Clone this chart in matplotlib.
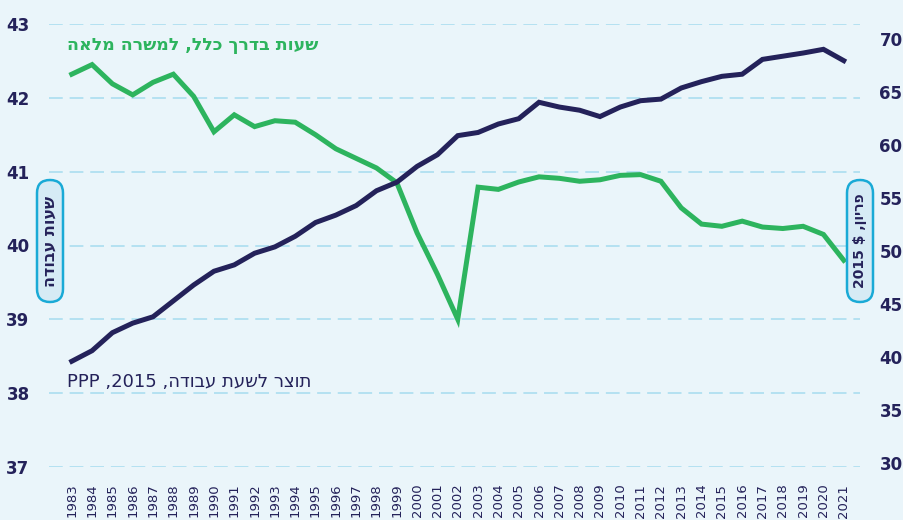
import matplotlib.pyplot as plt
from matplotlib.patches import FancyBboxPatch
from matplotlib.transforms import IdentityTransform

years = list(range(1983, 2022))

# usual weekly hours, full-time job (left axis)
hours = [42.32, 42.45, 42.19, 42.04, 42.21, 42.32, 42.02, 41.54, 41.77, 41.61,
         41.69, 41.67, 41.50, 41.31, 41.18, 41.05, 40.85, 40.17, 39.61, 39.00,
         40.79, 40.76, 40.86, 40.93, 40.91, 40.87, 40.89, 40.95, 40.96, 40.87,
         40.51, 40.29, 40.26, 40.33, 40.25, 40.23, 40.26, 40.15, 39.80]

# output per hour worked, 2015 PPP $ (right axis)
productivity = [39.6, 40.6, 42.3, 43.2, 43.8, 45.3, 46.8, 48.1, 48.7, 49.8,
                50.4, 51.4, 52.7, 53.4, 54.3, 55.7, 56.5, 58.0, 59.1, 60.9,
                61.2, 62.0, 62.5, 64.05, 63.6, 63.3, 62.7, 63.6, 64.2, 64.35,
                65.4, 66.0, 66.5, 66.7, 68.1, 68.4, 68.7, 69.05, 67.98]

left_ticks = [37, 38, 39, 40, 41, 42, 43]
right_ticks = [30, 35, 40, 45, 50, 55, 60, 65, 70]

# hebrew strings in visual (left-to-right) order, matplotlib has no bidi
hours_label = "שעות בדרך כלל, למשרה מלאה"[::-1]
prod_label = "PPP ,2015 ," + "תוצר לשעת עבודה"[::-1]
left_axis_label = "שעות עבודה"[::-1]
right_axis_label = "2015 $ ," + "פריון"[::-1]

BG = "#EAF5FA"
GREEN = "#2DB45E"
NAVY = "#24225A"
GRID = "#A6DBEF"
BOX_EDGE = "#1AAAD6"
BOX_FILL = "#D6EBF5"

plt.rcParams['font.family'] = ['DejaVu Sans']

W, H = 904, 520
fig = plt.figure(figsize=(W / 100, H / 100), dpi=100, facecolor=BG)
ax = fig.add_axes([49 / W, 1 - 467 / H, (860 - 49) / W, (467 - 24) / H])
ax.set_facecolor(BG)
ax2 = ax.twinx()

ax.set_xlim(1981.88, 2021.8)
ax.set_ylim(37, 43)
ax2.set_ylim(29.62, 71.44)

ax.set_yticks(left_ticks)
ax2.set_yticks(right_ticks)
ax.set_xticks(years)
ax.set_xticklabels([str(y) for y in years], rotation=90, fontsize=9.5, color=NAVY)
ax.set_yticklabels([str(t) for t in left_ticks], fontsize=12, fontweight='bold', color=NAVY)
ax2.set_yticklabels([str(t) for t in right_ticks], fontsize=12, fontweight='bold', color=NAVY)
ax.tick_params(axis='x', length=0, pad=12)
ax.tick_params(axis='y', length=0, pad=14)
ax2.tick_params(axis='y', length=0, pad=14)

for a in (ax, ax2):
    for s in a.spines.values():
        s.set_visible(False)

ax.grid(axis='y', color=GRID, linewidth=1.1, linestyle=(0, (9, 4.5)))
ax.set_axisbelow(True)

ax.plot(years, hours, color=GREEN, linewidth=3.6, solid_joinstyle='miter', zorder=3)
ax2.plot(years, productivity, color=NAVY, linewidth=3.6, solid_joinstyle='miter', zorder=3)

fig.text(67 / W, 1 - 45 / H, hours_label, color=GREEN, fontsize=12.5, fontweight='bold',
         ha='left', va='center')
fig.text(67 / W, 1 - 382 / H, prod_label, color=NAVY, fontsize=13,
         ha='left', va='center')

# rounded axis-title boxes (pixel coords)
for cx, label, fs in [(50, left_axis_label, 11.5), (860, right_axis_label, 10)]:
    bw, bh = 26, 122
    box = FancyBboxPatch((cx - bw / 2, H - 241 - bh / 2), bw, bh,
                         boxstyle="round,pad=0,rounding_size=13",
                         transform=IdentityTransform(), facecolor=BOX_FILL,
                         edgecolor=BOX_EDGE, linewidth=1.8, zorder=5)
    fig.patches.append(box)
    fig.text(cx / W, 1 - 241 / H, label, rotation=90, color=NAVY, fontsize=fs,
             fontweight='bold', ha='center', va='center', zorder=6)

fig.savefig("out.png", dpi=100, facecolor=BG)
